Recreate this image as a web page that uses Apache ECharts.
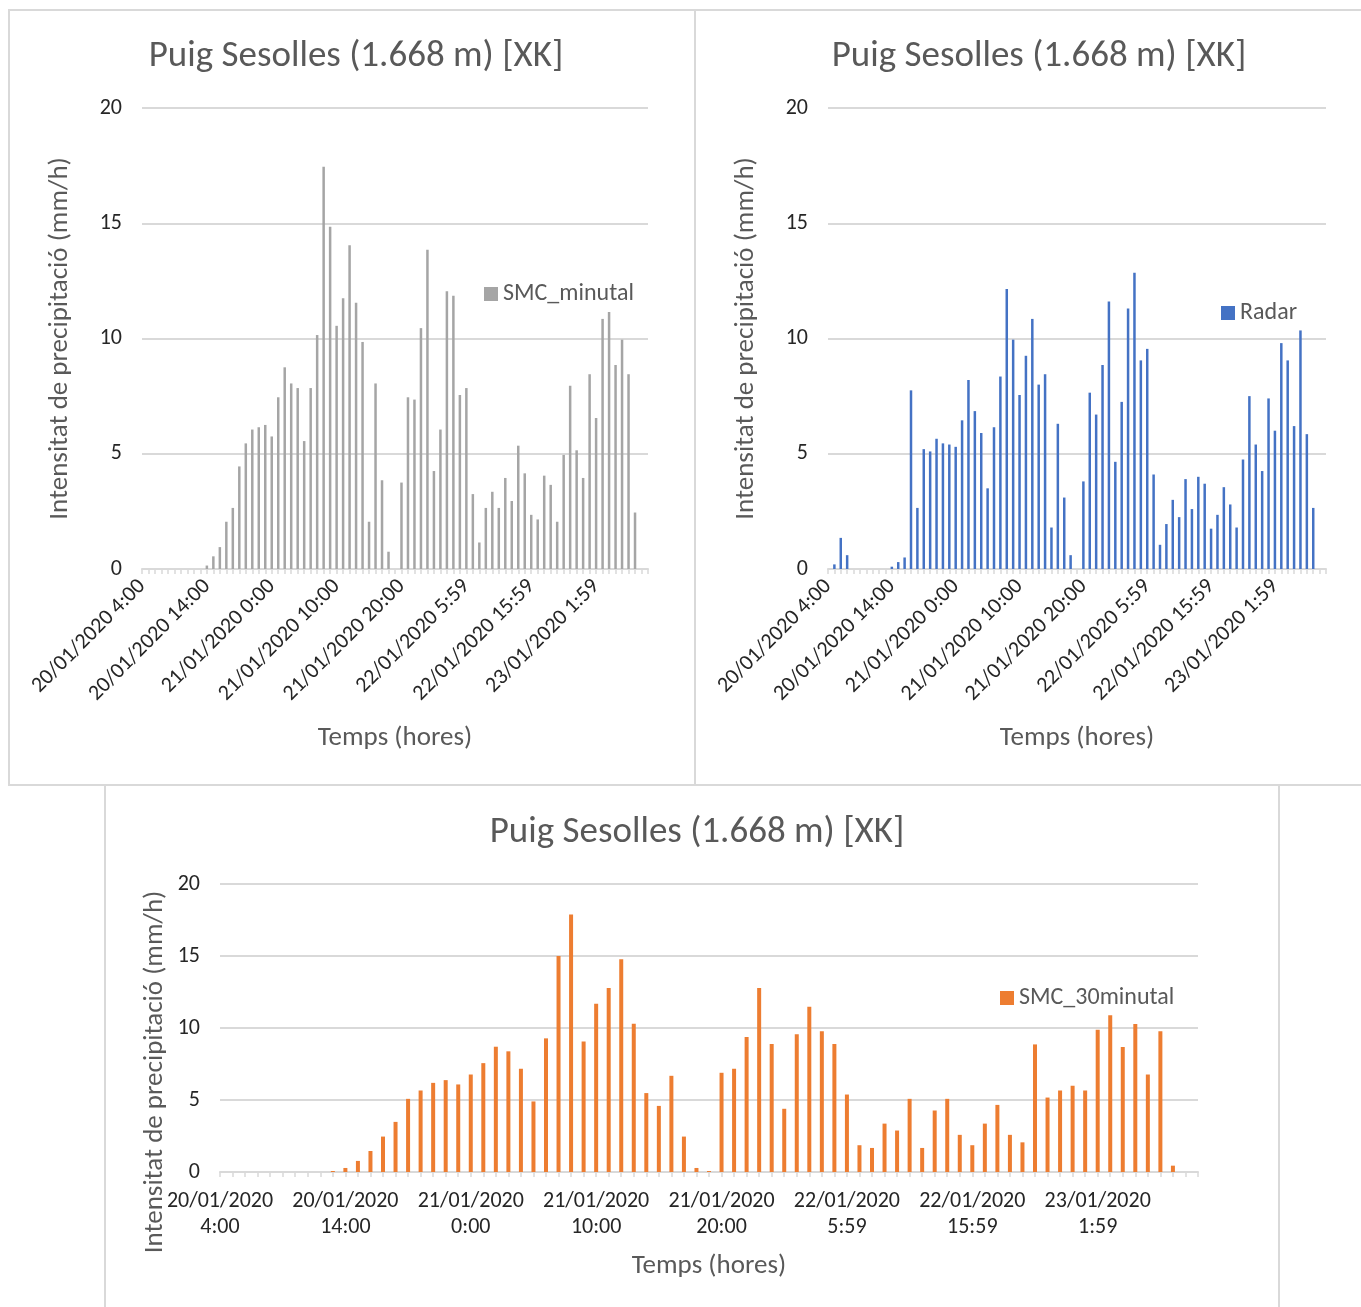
<!DOCTYPE html>
<html>
<head>
<meta charset="utf-8">
<script src="https://cdn.jsdelivr.net/npm/echarts@6/dist/echarts.min.js"></script>
<style>
  html, body { margin: 0; padding: 0; background: #fff; }
  #chart { width: 1361px; height: 1307px; }
</style>
</head>
<body>
<div id="chart"></div>
<script>
// one category per hour, 20/01/2020 4:00 -> 23/01/2020 10:00 (79 points)
const hours = [];
for (let i = 0; i < 79; i++) hours.push(String(i));

const tickLabels = [
  '20/01/2020 4:00', '20/01/2020 14:00', '21/01/2020 0:00', '21/01/2020 10:00',
  '21/01/2020 20:00', '22/01/2020 5:59', '22/01/2020 15:59', '23/01/2020 1:59'
];

const smcMinutal = [
  0, 0, 0, 0, 0, 0, 0, 0, 0, 0,
  0.15, 0.55, 0.95, 2.05, 2.65, 4.45, 5.45, 6.05, 6.15, 6.25,
  5.75, 7.45, 8.75, 8.05, 7.85, 5.55, 7.85, 10.15, 17.45, 14.85,
  10.55, 11.75, 14.05, 11.55, 9.85, 2.05, 8.05, 3.85, 0.75, 0,
  3.75, 7.45, 7.35, 10.45, 13.85, 4.25, 6.05, 12.05, 11.85, 7.55,
  7.85, 3.25, 1.15, 2.65, 3.35, 2.65, 3.95, 2.95, 5.35, 4.15,
  2.35, 2.15, 4.05, 3.65, 2.05, 4.95, 7.95, 5.15, 3.95, 8.45,
  6.55, 10.85, 11.15, 8.85, 9.95, 8.45, 2.45, 0, 0
];

const radar = [
  0, 0.2, 1.35, 0.6, 0, 0, 0, 0, 0, 0,
  0.1, 0.3, 0.5, 7.75, 2.65, 5.2, 5.1, 5.65, 5.45, 5.4,
  5.3, 6.45, 8.2, 6.85, 5.9, 3.5, 6.15, 8.35, 12.15, 9.95,
  7.55, 9.25, 10.85, 8.0, 8.45, 1.8, 6.3, 3.1, 0.6, 0,
  3.8, 7.65, 6.7, 8.85, 11.6, 4.65, 7.25, 11.3, 12.85, 9.05,
  9.55, 4.1, 1.05, 1.95, 3.0, 2.25, 3.9, 2.6, 4.0, 3.7,
  1.75, 2.35, 3.55, 2.8, 1.8, 4.75, 7.5, 5.4, 4.25, 7.4,
  6.0, 9.8, 9.05, 6.2, 10.35, 5.85, 2.65, 0, 0
];

const smc30minutal = [
  0, 0, 0, 0, 0, 0, 0, 0, 0, 0.07,
  0.28, 0.77, 1.46, 2.46, 3.48, 5.08, 5.66, 6.19, 6.38, 6.08,
  6.77, 7.56, 8.7, 8.38, 7.17, 4.9, 9.28, 15.0, 17.89, 9.07,
  11.69, 12.78, 14.78, 10.3, 5.48, 4.59, 6.68, 2.46, 0.28, 0.07,
  6.89, 7.17, 9.37, 12.78, 8.89, 4.39, 9.56, 11.48, 9.77, 8.89,
  5.38, 1.86, 1.67, 3.36, 2.88, 5.08, 1.67, 4.27, 5.08, 2.58,
  1.86, 3.36, 4.66, 2.58, 2.06, 8.86, 5.17, 5.66, 5.99, 5.66,
  9.88, 10.88, 8.68, 10.28, 6.77, 9.77, 0.44, 0, 0
];

const FONT = "Carlito, 'Open Sans', sans-serif";
const GRID_GRAY = '#d9d9d9';
const TEXT_GRAY = '#595959';
const LABEL_DARK = '#262626';
const TITLE = 'Puig Sesolles (1.668 m) [XK]';
const Y_NAME = 'Intensitat de precipitació (mm/h)';
const X_NAME = 'Temps (hores)';

function xAxis(gridIndex, rotated, nameGap) {
  return {
    gridIndex: gridIndex,
    type: 'category',
    data: hours,
    boundaryGap: false,
    name: X_NAME,
    nameLocation: 'middle',
    nameGap: nameGap,
    nameTextStyle: { color: TEXT_GRAY, fontSize: 27, fontFamily: FONT },
    axisLine: { lineStyle: { color: GRID_GRAY, width: 2 } },
    axisTick: { show: true, interval: 0, length: 5, lineStyle: { color: GRID_GRAY, width: 1.5 } },
    axisLabel: {
      interval: 9,
      rotate: rotated ? 45 : 0,
      margin: rotated ? 14 : 16,
      fontSize: 22,
      lineHeight: 26,
      color: LABEL_DARK,
      fontFamily: FONT,
      formatter: function (v, i) {
        if (i % 10 !== 0) return '';
        const t = tickLabels[i / 10];
        return rotated ? t : t.replace(' ', '\n');
      }
    },
    splitLine: { show: false }
  };
}

function yAxis(gridIndex, nameGap, showName) {
  return {
    gridIndex: gridIndex,
    type: 'value',
    min: 0,
    max: 20,
    interval: 5,
    name: showName ? Y_NAME : '',
    nameLocation: 'middle',
    nameGap: nameGap,
    nameTextStyle: { color: TEXT_GRAY, fontSize: 27, fontFamily: FONT },
    axisLine: { show: false },
    axisTick: { show: false },
    axisLabel: { margin: 20, fontSize: 22, color: LABEL_DARK, fontFamily: FONT },
    splitLine: { lineStyle: { color: GRID_GRAY, width: 2 } }
  };
}

function frame(x, y, w, h) {
  return {
    type: 'rect',
    shape: { x: x, y: y, width: w, height: h },
    style: { fill: 'none', stroke: GRID_GRAY, lineWidth: 2 },
    silent: true
  };
}

function title(x, y) {
  return {
    text: TITLE, left: x, top: y, textAlign: 'center',
    textStyle: { color: TEXT_GRAY, fontSize: 37, fontWeight: 'normal', fontFamily: FONT }
  };
}

function legend(name, x, y) {
  return {
    data: [name], left: x, top: y, icon: 'rect', itemWidth: 14, itemHeight: 14, itemGap: 6,
    textStyle: { color: TEXT_GRAY, fontSize: 24, fontFamily: FONT }
  };
}

const chart = echarts.init(document.getElementById('chart'));

chart.setOption({
  backgroundColor: '#fff',
  animation: false,
  graphic: [
    frame(9, 10, 686, 775),
    frame(695, 10, 700, 775),
    frame(105, 785, 1174, 540),
    // bottom chart's y title sits lower than the plot centre, as in the original
    {
      type: 'text',
      x: 155, y: 1072,
      rotation: Math.PI / 2,
      style: {
        text: Y_NAME, fill: TEXT_GRAY, font: '27px ' + FONT,
        align: 'center', verticalAlign: 'middle'
      },
      silent: true
    }
  ],
  title: [title(351, 33), title(1034, 33), title(692, 809)],
  legend: [
    legend('SMC_minutal', 479, 277),
    legend('Radar', 1216, 296),
    legend('SMC_30minutal', 995, 981)
  ],
  grid: [
    { left: 142, top: 108, width: 506, height: 461 },
    { left: 828, top: 108, width: 498, height: 461 },
    { left: 220, top: 884, width: 978, height: 288 }
  ],
  xAxis: [xAxis(0, true, 156), xAxis(1, true, 156), xAxis(2, false, 81)],
  yAxis: [yAxis(0, 68, true), yAxis(1, 68, true), yAxis(2, 51, false)],
  series: [
    { name: 'SMC_minutal', type: 'bar', xAxisIndex: 0, yAxisIndex: 0, data: smcMinutal,
      barWidth: 2.5, itemStyle: { color: '#a5a5a5' } },
    { name: 'Radar', type: 'bar', xAxisIndex: 1, yAxisIndex: 1, data: radar,
      barWidth: 2.5, itemStyle: { color: '#4472c4' } },
    { name: 'SMC_30minutal', type: 'bar', xAxisIndex: 2, yAxisIndex: 2, data: smc30minutal,
      barWidth: 4, itemStyle: { color: '#ed7d31' } }
  ]
});
</script>
</body>
</html>
